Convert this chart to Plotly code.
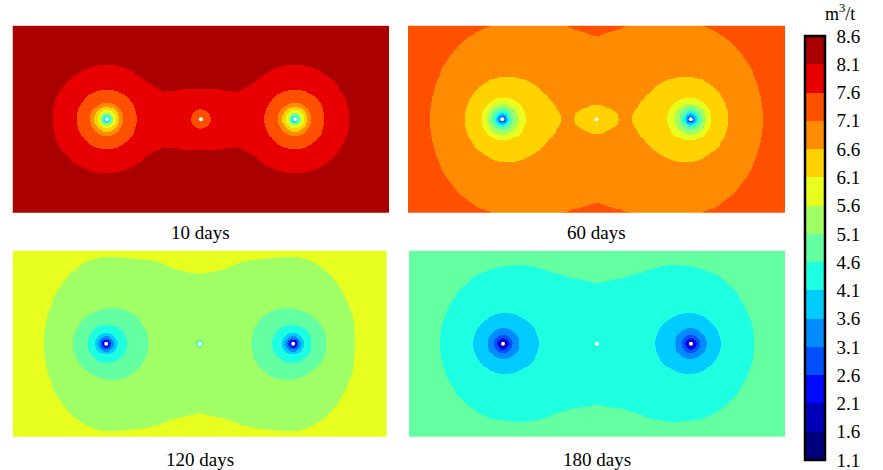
import numpy as np
import plotly.graph_objects as go

# ---------------- data ----------------
PANEL_LABELS = ["10 days", "60 days", "120 days", "180 days"]
UNIT_LABEL = "m<sup>3</sup>/t"

TICK_VALUES = [1.1, 1.6, 2.1, 2.6, 3.1, 3.6, 4.1, 4.6, 5.1, 5.6, 6.1, 6.6, 7.1, 7.6, 8.1, 8.6]
TICK_TEXT = ["1.1", "1.6", "2.1", "2.6", "3.1", "3.6", "4.1", "4.6", "5.1", "5.6",
             "6.1", "6.6", "7.1", "7.6", "8.1", "8.6"]
BAND_COLORS = ["#00007F", "#0000B8", "#0008FF", "#0050FF", "#008CFF", "#00CCFF",
               "#1EFFE1", "#64FFA0", "#A0FF64", "#E6FF1E", "#FFD200", "#FF8C00",
               "#FF5000", "#E80000", "#AA0000"]

# well positions (model units, domain 200 x 100)
DOMAIN_W, DOMAIN_H = 200.0, 100.0
WELL_X = [50.0, 100.0, 150.0]
WELL_Y = [50.0, 50.0, 50.0]
WELL_KIND = ["side", "center", "side"]

# far-field gas content of each panel
FAR_VALUE = [8.45, 7.45, 6.0, 5.0]
# vertical squeeze of the outer influence zone of the side wells (1 = circular)
OUTER_SQUEEZE = [1.0, 0.81, 0.74, 0.85]

# radial drops of gas content (radius, drop) read from the ring radii
SIDE_R_10 = [0.6, 1.3, 1.9, 2.7, 3.5, 4.8, 6.7, 8.9, 16, 29, 40, 55]
SIDE_D_10 = [4.9, 4.35, 3.85, 3.35, 2.85, 2.35, 1.85, 1.35, 0.85, 0.35, 0.15, 0.0]
CENTER_R_10 = [0.5, 1, 4.4, 16.4, 25, 35]
CENTER_D_10 = [1.2, 1.15, 0.82, 0.31, 0.09, 0.0]

SIDE_R_60 = [0.5, 0.9, 1.4, 2.1, 3.0, 4.1, 5.7, 8.0, 11.0, 19.8, 25, 31.8, 36.6, 45, 51.8, 61.9,
             73, 90, 110, 140, 180]
SIDE_D_60 = [5.3, 4.75, 4.25, 3.75, 3.25, 2.75, 2.25, 1.75, 1.25, 0.79, 0.6, 0.43, 0.33, 0.25,
             0.195, 0.115, 0.08, 0.05, 0.025, 0.01, 0.0]
CENTER_R_60 = [0.5, 1, 7.8, 11.4, 18.5, 30, 45, 50, 58, 70.7, 90, 130]
CENTER_D_60 = [0.88, 0.86, 0.44, 0.425, 0.32, 0.2, 0.115, 0.097, 0.078, 0.045, 0.025, 0.0]

SIDE_R_120 = [0.4, 0.7, 1.1, 1.5, 2.1, 3.0, 4.2, 5.9, 10.5, 19, 33.6, 36.3, 40, 46.9, 57.1, 70,
              95, 101, 125, 160]
SIDE_D_120 = [5.3, 4.8, 4.3, 3.8, 3.3, 2.8, 2.3, 1.8, 1.3, 0.81, 0.375, 0.34, 0.3, 0.23, 0.14,
              0.075, 0.028, 0.022, 0.01, 0.0]
CENTER_R_120 = [0.5, 1.0, 1.3, 2.0, 10, 37.3, 47, 61, 80, 100, 130]
CENTER_D_120 = [1.6, 1.3, 1.0, 0.5, 0.3, 0.12, 0.08, 0.025, 0.015, 0.005, 0.0]

SIDE_R_180 = [0.5, 0.9, 1.4, 2.1, 3.1, 4.9, 8.2, 16.3, 33.5, 36.9, 42.4, 50, 57.1, 70, 79, 100,
              111, 133, 160]
SIDE_D_180 = [4.4, 3.84, 3.34, 2.84, 2.34, 1.84, 1.34, 0.84, 0.38, 0.35, 0.29, 0.22, 0.15, 0.08,
              0.06, 0.025, 0.015, 0.008, 0.0]
CENTER_R_180 = [0.5, 1, 5, 32.5, 43.9, 61, 80, 100, 130]
CENTER_D_180 = [0.42, 0.4, 0.28, 0.1, 0.05, 0.02, 0.01, 0.005, 0.0]

PROFILES = [
    {"side": (SIDE_R_10, SIDE_D_10), "center": (CENTER_R_10, CENTER_D_10)},
    {"side": (SIDE_R_60, SIDE_D_60), "center": (CENTER_R_60, CENTER_D_60)},
    {"side": (SIDE_R_120, SIDE_D_120), "center": (CENTER_R_120, CENTER_D_120)},
    {"side": (SIDE_R_180, SIDE_D_180), "center": (CENTER_R_180, CENTER_D_180)},
]
ROUND_INNER, ROUND_OUTER = 18.0, 32.0   # rings stay round inside ROUND_INNER

# ---------------- build fields ----------------
STEP = 0.5
xg = np.arange(0.0, DOMAIN_W + 1e-9, STEP)
yg = np.arange(0.0, DOMAIN_H + 1e-9, STEP)
X, Y = np.meshgrid(xg, yg)


def drop(dx, dy, rr, dd, qfar):
    r = np.hypot(dx, dy)
    t = np.clip((r - ROUND_INNER) / (ROUND_OUTER - ROUND_INNER), 0.0, 1.0)
    q = 1.0 - (1.0 - qfar) * t
    re = np.hypot(dx, q * dy)
    rr = np.asarray(rr, float)
    return np.interp(np.log(np.maximum(re, rr[0])), np.log(rr), np.asarray(dd, float), right=0.0)


def field(p):
    Z = np.full_like(X, FAR_VALUE[p])
    for wx, wy, kind in zip(WELL_X, WELL_Y, WELL_KIND):
        rr, dd = PROFILES[p][kind]
        q = OUTER_SQUEEZE[p] if kind == "side" else 1.0
        Z = Z - drop(X - wx, Y - wy, rr, dd, q)
    return np.round(Z, 3)


# discrete colour scale: 15 equal bands between 1.1 and 8.6
nb = len(BAND_COLORS)
band_cs = []
for k, c in enumerate(BAND_COLORS):
    band_cs += [[k / nb, c], [(k + 1) / nb, c]]
vmin, vmax = TICK_VALUES[0], TICK_VALUES[-1]

W, H = 883, 470
# panel boxes in pixels (left, right, top, bottom)
BOXES = [(12.7, 389.0, 25.7, 212.7), (408.0, 785.0, 25.7, 212.7),
         (12.7, 386.7, 250.7, 436.7), (409.0, 785.0, 250.7, 436.7)]
LABEL_Y = [232, 232, 459, 459]
BAR_L, BAR_R, BAR_T, BAR_B = 805.0, 827.0, 36.0, 460.0

fig = go.Figure()
layout = dict(width=W, height=H, margin=dict(l=0, r=0, t=0, b=0),
              paper_bgcolor="white", plot_bgcolor="white", showlegend=False,
              font=dict(family="Liberation Serif", color="black"))
annotations = []
shapes = []
for p in range(4):
    ax = "" if p == 0 else str(p + 1)
    l, r, t, b = BOXES[p]
    layout["xaxis" + ax] = dict(domain=[l / W, r / W], range=[0, DOMAIN_W], visible=False,
                                fixedrange=True)
    layout["yaxis" + ax] = dict(domain=[1 - b / H, 1 - t / H], range=[0, DOMAIN_H], visible=False,
                                fixedrange=True)
    fig.add_trace(go.Heatmap(
        x=xg, y=yg, z=field(p), xaxis="x" + ax, yaxis="y" + ax,
        colorscale=band_cs, zmin=vmin, zmax=vmax, zsmooth=False,
        showscale=(p == 0), hoverinfo="skip",
        colorbar=dict(x=BAR_L / W, xanchor="left", xpad=0, ypad=0,
                      y=1 - (BAR_T + BAR_B) / 2 / H, yanchor="middle",
                      len=(BAR_B - BAR_T) / H, lenmode="fraction", thickness=20,
                      outlinewidth=2.5, outlinecolor="black",
                      tickvals=TICK_VALUES, ticktext=TICK_TEXT,
                      ticks="outside", ticklen=7, tickwidth=1,
                      tickcolor="rgba(0,0,0,0)", ticklabeloverflow="allow",
                      tickfont=dict(family="Liberation Serif", size=19, color="black"))))
    fig.add_trace(go.Scatter(
        x=WELL_X, y=WELL_Y, xaxis="x" + ax, yaxis="y" + ax, mode="markers",
        marker=dict(color="white", size=4, line=dict(width=0)), hoverinfo="skip"))
    annotations.append(dict(text=PANEL_LABELS[p], x=(l + r) / 2 / W, y=1 - LABEL_Y[p] / H,
                            xref="paper", yref="paper", showarrow=False,
                            xanchor="center", yanchor="middle",
                            font=dict(size=19, family="Liberation Serif", color="black")))

# small black notches on both inner edges of the colour bar at each level
for v in TICK_VALUES[1:-1]:
    yp = 1 - (BAR_B - (v - vmin) / (vmax - vmin) * (BAR_B - BAR_T)) / H
    for x0, x1 in ((BAR_L + 1, BAR_L + 4), (BAR_R - 4, BAR_R - 1)):
        shapes.append(dict(type="line", xref="paper", yref="paper", x0=x0 / W, x1=x1 / W,
                           y0=yp, y1=yp, line=dict(color="black", width=2.5)))

annotations.append(dict(text=UNIT_LABEL, x=839.5 / W, y=1 - 13 / H, xref="paper", yref="paper",
                        showarrow=False, xanchor="center", yanchor="middle",
                        font=dict(size=18, family="Liberation Serif", color="black")))
layout["annotations"] = annotations
layout["shapes"] = shapes
fig.update_layout(**layout)
fig.write_html("out.html")
